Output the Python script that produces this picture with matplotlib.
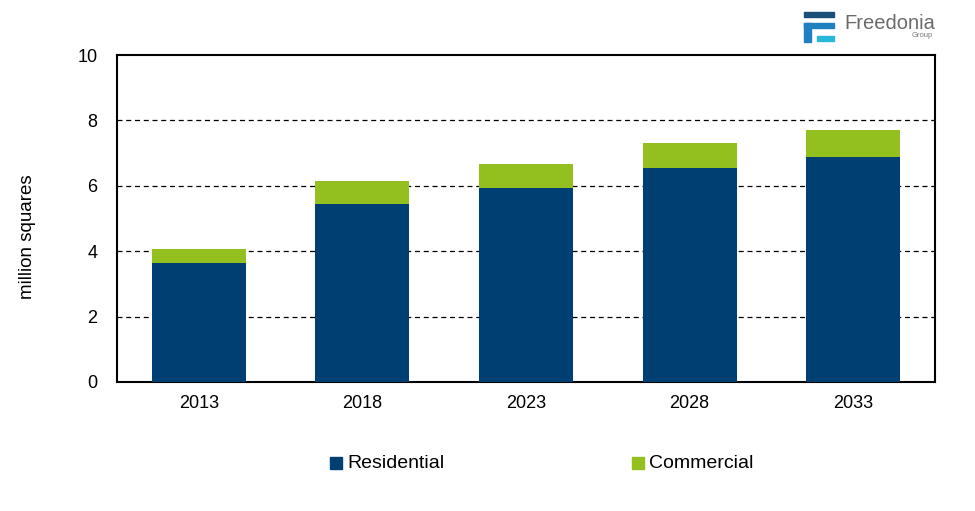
import matplotlib.pyplot as plt
from matplotlib.patches import Rectangle
import numpy as np

plt.rcParams['font.family'] = ['Liberation Sans', 'DejaVu Sans']

# data
years = ['2013', '2018', '2023', '2028', '2033']
residential = [3.64, 5.44, 5.93, 6.54, 6.88]
commercial = [0.43, 0.71, 0.74, 0.77, 0.83]
yticks = [0, 2, 4, 6, 8, 10]

blue = '#003f72'
green = '#93bf1f'

fig = plt.figure(figsize=(9.75, 5.11), dpi=100)
ax = fig.add_axes([117/975, 1-382/511, 818/975, 327/511])

x = np.arange(len(years))
ax.bar(x, residential, width=0.575, color=blue, label='Residential', zorder=3)
ax.bar(x, commercial, width=0.575, bottom=residential, color=green,
       label='Commercial', zorder=3)

ax.set_xlim(-0.5, 4.5)
ax.set_ylim(0, 10)
ax.set_yticks(yticks)
ax.set_xticks(x)
ax.set_xticklabels(years)
ax.tick_params(axis='both', length=0, labelsize=13, colors='black')
ax.tick_params(axis='x', pad=9)
ax.tick_params(axis='y', pad=14)
for s in ax.spines.values():
    s.set_color('black')
    s.set_linewidth(1.5)
# dashed gridlines, only inside the frame
for yv in yticks[1:-1]:
    ax.axhline(yv, linestyle=(0, (4, 3)), color='black', linewidth=0.9, zorder=1)

fig.text(27/975, 1-237/511, 'million squares', rotation=90, ha='center', va='center',
         fontsize=13.5)

# legend
fig.patches.append(Rectangle((330/975, 1-469/511), 12/975, 12/511, color=blue,
                             transform=fig.transFigure, figure=fig))
fig.text(347/975, 1-463/511, 'Residential', va='center', fontsize=14)
fig.patches.append(Rectangle((632/975, 1-469/511), 12/975, 12/511, color=green,
                             transform=fig.transFigure, figure=fig))
fig.text(649/975, 1-463/511, 'Commercial', va='center', fontsize=14)

# logo
def box(x0, y0, x1, y1, c):
    fig.patches.append(Rectangle((x0/975, 1-y1/511), (x1-x0)/975, (y1-y0)/511,
                                 color=c, transform=fig.transFigure, figure=fig))

box(804, 12, 834, 17, '#1b4f7a')
box(804, 23, 834, 28, '#1f7fc0')
box(804, 23, 811, 42, '#1f7fc0')
box(817, 36, 834, 41, '#29b8d8')
fig.text(844/975, 1-23/511, 'Freedonia', va='center', fontsize=14.5, color='#6b6b6b')
fig.text(933/975, 1-35/511, 'Group', va='center', ha='right', fontsize=5.5,
         color='#7a7a7a')

fig.savefig('out.png', dpi=100)
